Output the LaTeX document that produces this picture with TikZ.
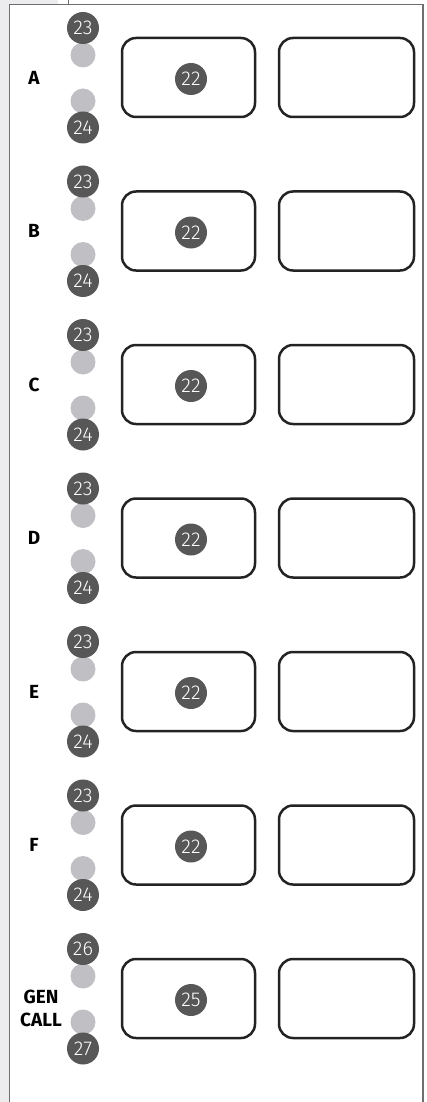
\documentclass[tikz,border=0pt]{standalone}
\usepackage{fontspec}
\setmainfont{Fira Sans}
\newfontfamily\numfont{Fira Sans Light}
\definecolor{stripgray}{HTML}{ECECEF}
\definecolor{framegray}{HTML}{6E6E6E}
\definecolor{dotdark}{HTML}{575757}
\definecolor{dotlight}{HTML}{C0C0C4}
\definecolor{boxblack}{HTML}{232323}
\tikzset{
  dot/.style={circle, fill=dotdark, minimum size=32pt, inner sep=0pt, text=white, font=\numfont\fontsize{20}{20}\selectfont},
  lite/.style={circle, fill=dotlight, minimum size=25pt, inner sep=0pt},
  panel/.style={draw=boxblack, line width=2.5pt, rounded corners=14pt, minimum height=79pt, inner sep=0pt},
  lbl/.style={font=\bfseries\fontsize{19}{23}\selectfont, align=center, inner sep=0pt}
}
\begin{document}
\begin{tikzpicture}[x=1pt,y=-1pt]
\useasboundingbox (0,0) rectangle (426,1102);
\fill[stripgray] (0,0) rectangle (9.5,1102);
\fill[stripgray] (0,0) rectangle (58,4);
\draw[framegray, line width=1pt] (68.5,0) -- (68.5,4);
\draw[framegray, line width=1.5pt] (9.5,1102) -- (9.5,4.5) -- (423,4.5) -- (423,1102);
\foreach \k/\lab/\up/\dn/\mid in {0/A/23/24/22, 1/B/23/24/22, 2/C/23/24/22, 3/D/23/24/22, 4/E/23/24/22, 5/F/23/24/22, 6//26/27/25}{
  \pgfmathsetmacro{\c}{77.5+153.5*\k}
  \node[lite] (la\k) at (83,\c-22.5) {};
  \node[lite] (lb\k) at (83,\c+23.5) {};
  \node[dot] (up\k) at (83,\c-49.5) {\up};
  \node[dot] (dn\k) at (83,\c+50) {\dn};
  \node[panel, minimum width=133pt] (p\k) at (188.5,\c) {};
  \node[panel, minimum width=135pt] (q\k) at (346.5,\c) {};
  \node[dot] (m\k) at (191,\c+1.5) {\mid};
  \node[lbl] (t\k) at (34,\c) {\lab};
}
\node[lbl] (gen) at (41,1008) {GEN\\CALL};
\end{tikzpicture}
\end{document}
